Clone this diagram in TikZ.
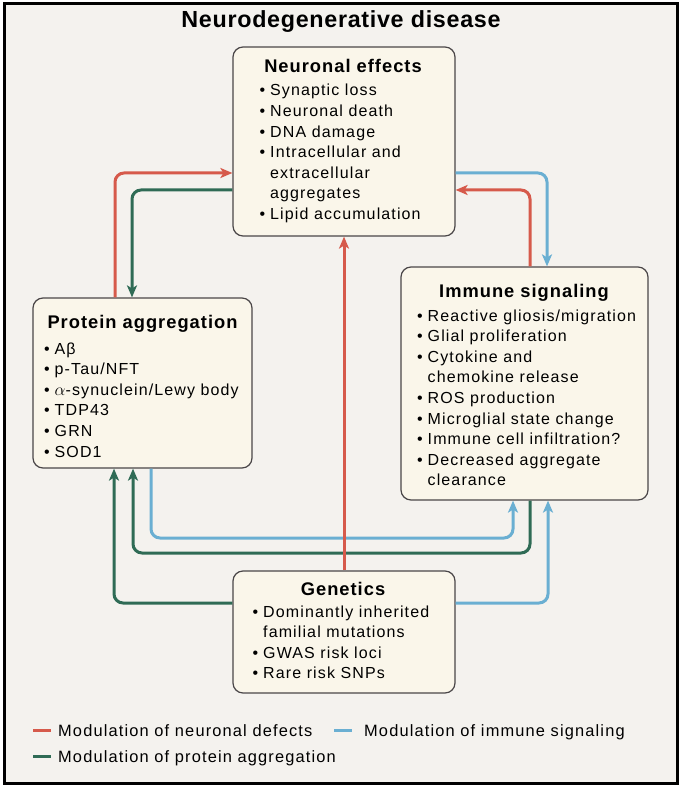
\documentclass[tikz,border=0pt]{standalone}
\usepackage{fontspec}
\setmainfont{Liberation Sans}
\newfontfamily\bodyf[LetterSpace=7]{Liberation Sans}
\newfontfamily\ttlf[LetterSpace=5.5]{Liberation Sans}
\newfontfamily\headf[LetterSpace=3]{Liberation Sans}
\usetikzlibrary{arrows.meta}
\definecolor{cred}{HTML}{D65A4B}
\definecolor{cgreen}{HTML}{2F6B55}
\definecolor{cblue}{HTML}{6AAFD2}
\definecolor{bg}{HTML}{F4F2EE}
\definecolor{boxfill}{HTML}{FAF6EA}
\definecolor{boxline}{HTML}{4A4648}
\newcommand{\bl}{\makebox[10.5pt][l]{•}}
\newcommand{\ind}{\hspace*{10.5pt}}
\begin{document}
\begin{tikzpicture}[x=1pt,y=-1pt,
  box/.style={draw=boxline, line width=1.2pt, fill=boxfill, rounded corners=10pt, inner sep=0pt},
  body/.style={anchor=base west, inner sep=0pt, font=\bodyf\fontsize{16}{20.6}\selectfont},
  ttl/.style={anchor=base, inner sep=0pt, font=\ttlf\fontsize{18.3}{20}\selectfont\bfseries},
  conn/.style={line width=3pt, rounded corners=9pt, -{Stealth[length=12pt,width=10pt,inset=3pt]}},
  leg/.style={anchor=base west, inner sep=0pt, font=\bodyf\fontsize{16.4}{18}\selectfont}]
\useasboundingbox (0,0) rectangle (680,786);
\fill[white] (0,0) rectangle (680,786);
\draw[line width=3pt, fill=bg] (4,4) rectangle (677,783);
\node[anchor=base, inner sep=0pt, font=\headf\fontsize{23.3}{26}\selectfont\bfseries] (title) at (341,28) {Neurodegenerative disease};

% boxes
\node[box, minimum width=222pt, minimum height=189pt] (ne) at (344,141.5) {};
\node[box, minimum width=219pt, minimum height=170pt] (pa) at (142.5,383) {};
\node[box, minimum width=247pt, minimum height=233pt] (is) at (524.5,383.5) {};
\node[box, minimum width=222pt, minimum height=122pt] (ge) at (344,632) {};

% lanes
\coordinate (xa) at (115,0);
\coordinate (xb) at (132,0);
\coordinate (xc) at (547,0);
\coordinate (xd) at (530,0);
\coordinate (ya) at (0,173);
\coordinate (yb) at (0,190);
\coordinate (xe) at (114,0);
\coordinate (xf) at (133,0);
\coordinate (xg) at (151,0);
\coordinate (xh) at (513,0);
\coordinate (xi) at (548,0);
\coordinate (yc) at (0,603);
\coordinate (yd) at (0,553);
\coordinate (ye) at (0,538);

% connectors
\draw[conn, cgreen] (ne.west |- yb) -| (pa.north -| xb);
\draw[conn, cblue] (ne.east |- ya) -| (is.north -| xc);
\draw[conn, cgreen] (ge.west |- yc) -| (pa.south -| xe);
\draw[conn, cgreen] (is.south -| xd) |- (yd -| xf) -- (pa.south -| xf);
\draw[conn, cblue] (pa.south -| xg) |- (ye -| xh) -- (is.south -| xh);
\draw[conn, cblue] (ge.east |- yc) -| (is.south -| xi);
\draw[conn, cred] (pa.north -| xa) |- (ne.west |- ya);
\draw[conn, cred] (is.north -| xd) |- (ne.east |- yb);
\draw[conn, cred] (ge.north) -- (ne.south);

% texts
\node[ttl] (net) at (343,73) {Neuronal effects};
\node[body] (neb) at (259.5,96) {\parbox[t]{205pt}{\bl Synaptic loss\\ \bl Neuronal death\\ \bl DNA damage\\ \bl Intracellular and\\ \ind extracellular\\ \ind aggregates\\ \bl Lipid accumulation}};

\node[ttl] (pat) at (142.5,328) {Protein aggregation};
\node[body] (pab) at (44,354) {\parbox[t]{210pt}{\bl Aβ\\ \bl p-Tau/NFT\\ \bl $\alpha$-synuclein/Lewy body\\ \bl TDP43\\ \bl GRN\\ \bl SOD1}};

\node[ttl] (ist) at (524,297) {Immune signaling};
\node[body] (isb) at (417,321) {\parbox[t]{235pt}{\bl Reactive gliosis/migration\\ \bl Glial proliferation\\ \bl Cytokine and\\ \ind chemokine release\\ \bl ROS production\\ \bl Microglial state change\\ \bl Immune cell infiltration?\\ \bl Decreased aggregate\\ \ind clearance}};

\node[ttl] (get) at (343,595) {Genetics};
\node[body] (geb) at (252.5,617) {\parbox[t]{205pt}{\bl Dominantly inherited\\ \ind familial mutations\\ \bl GWAS risk loci\\ \bl Rare risk SNPs}};

% legend
\coordinate (l1a) at (33,730);
\coordinate (l1b) at (51,730);
\coordinate (l2a) at (334,730);
\coordinate (l2b) at (352,730);
\coordinate (l3a) at (33,756);
\coordinate (l3b) at (51,756);
\draw[cred, line width=3pt] (l1a) -- (l1b);
\draw[cblue, line width=3pt] (l2a) -- (l2b);
\draw[cgreen, line width=3pt] (l3a) -- (l3b);
\node[leg] (lg1) at (58,736) {Modulation of neuronal defects};
\node[leg] (lg2) at (364,736) {Modulation of immune signaling};
\node[leg] (lg3) at (58,762) {Modulation of protein aggregation};
\end{tikzpicture}
\end{document}
